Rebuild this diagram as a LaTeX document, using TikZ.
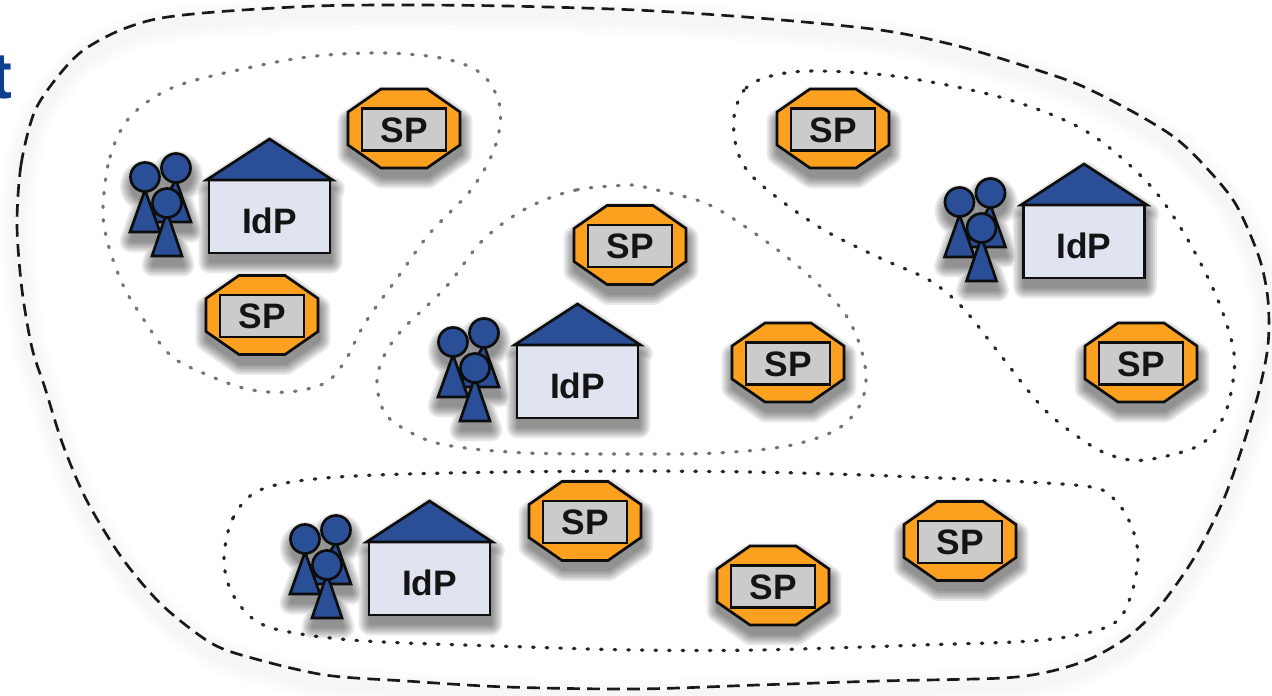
\documentclass[tikz,border=0pt]{standalone}
\usepackage{fontspec}
\setmainfont{Liberation Sans}
\definecolor{idblue}{HTML}{2A4F97}
\definecolor{sporange}{HTML}{FBA01F}
\definecolor{spgray}{HTML}{CBCBCB}
\definecolor{idlav}{HTML}{E0E3F0}
\definecolor{titleblue}{HTML}{0F3F8F}
\tikzset{
  x=0.75pt,y=-0.75pt,
  ink/.style={draw=black!95,line width=2pt,line join=miter},
  lbl/.style={font=\bfseries\fontsize{26.5}{26.5}\selectfont,text=black!92,inner sep=0pt},
  outerline/.style={draw=black!90,line width=2pt,dash pattern=on 9.5pt off 5.5pt},
  innerdark/.style={draw=black!85,line width=2.4pt,dash pattern=on 1.2pt off 9pt,line cap=round},
  innergray/.style={draw=black!55,line width=2.4pt,dash pattern=on 1.2pt off 9pt,line cap=round},
  softlayer/.style={black,fill=black,line width=#1 pt,line join=round,shift={(1,9)}},
  pics/sp/.style={code={
    \foreach \w in {17,14,11,8,5,2}{
      \begin{scope}[transparency group,opacity=.085]
        \draw[softlayer=\w]
          (-23,-39.5)--(23,-39.5)--(56,-16.5)--(56,16.5)--(23,39.5)--(-23,39.5)--(-56,16.5)--(-56,-16.5)--cycle;
      \end{scope}}
    \draw[ink,fill=sporange] (-23,-39.5)--(23,-39.5)--(56,-16.5)--(56,16.5)--(23,39.5)--(-23,39.5)--(-56,16.5)--(-56,-16.5)--cycle;
    \draw[ink,fill=spgray,line width=1.8pt] (-42,-20) rectangle (42,22);
    \node[lbl] (t) at (0,1.5) {SP};
  }},
  pics/idp/.style={code={
    \foreach \w in {17,14,11,8,5,2}{
      \begin{scope}[transparency group,opacity=.085]
        \draw[softlayer=\w]
          (0,-57)--(63,-16)--(60.5,-16)--(60.5,57)--(-60.5,57)--(-60.5,-16)--(-63,-16)--cycle;
        \draw[softlayer=\w]
          (-124.5,-19) circle (14.5) (-93.5,-28) circle (14.5) (-102.5,7) circle (14.5)
          (-124.5,-6)--(-139.5,36)--(-109.5,36)--cycle
          (-93.5,-16)--(-119,26)--(-78.5,26)--cycle
          (-102.5,16)--(-117.5,60)--(-87.5,60)--cycle;
      \end{scope}}
    \draw[ink,fill=idlav] (-60.5,-16) rectangle (60.5,57);
    \draw[ink,fill=idblue] (0,-57)--(63,-16)--(-63,-16)--cycle;
    \node[lbl] (t) at (0,25) {IdP};
    \draw[ink,fill=idblue] (-93.5,-16)--(-119,26)--(-78.5,26)--cycle;
    \draw[ink,fill=idblue] (-93.5,-28) circle (14.5);
    \draw[ink,fill=idblue] (-124.5,-6)--(-139.5,36)--(-109.5,36)--cycle;
    \draw[ink,fill=idblue] (-124.5,-19) circle (14.5);
    \draw[ink,fill=idblue] (-102.5,16)--(-117.5,60)--(-87.5,60)--cycle;
    \draw[ink,fill=idblue] (-102.5,7) circle (14.5);
  }}
}
\begin{document}
\begin{tikzpicture}
\useasboundingbox (0,0) rectangle (1272,696);
\clip (0,0) rectangle (1272,696);
\fill[white] (0,0) rectangle (1272,696);
\node[anchor=base east,inner sep=0pt,font=\bfseries\fontsize{49}{49}\selectfont,text=titleblue] (title) at (13,98) {t};
% outer boundary with faint glow
\def\outerpts{(17,225)(21,165)(34,113)(55,80)(81,52)(116,32)(156,19)(215,12)(316,6)(406,5)(507,6)(636,10)(758,18)(880,30)(958,46)(1037,70)(1082,86)(1135,113)(1174,137)(1202,163)(1235,203)(1259,257)(1268,300)(1268,345)(1259,391)(1243,445)(1223,501)(1194,558)(1160,606)(1129,636)(1092,658)(1052,671)(1003,678)(880,681)(758,685)(636,689)(507,687)(406,681)(325,675)(252,658)(211,643)(162,605)(122,558)(87,501)(63,445)(45,388)(32,348)(22,290)}
\foreach \w in {26,18,10}{
  \draw[black,opacity=.012,line width=\w pt,shift={(0,8)}] plot[smooth cycle,tension=.5] coordinates {\outerpts};}
\draw[outerline] plot[smooth cycle,tension=.5] coordinates {\outerpts};
% dotted groups
\draw[innergray] plot[smooth cycle,tension=.55] coordinates {(103,207)(110,157)(130,117)(174,87)(252,67)(316,56)(385,53)(446,59)(483,75)(500,107)(495,147)(471,190)(430,233)(398,277)(365,323)(345,361)(325,383)(288,392)(247,389)(203,373)(170,355)(142,317)(122,283)(107,240)};
\draw[innergray] plot[smooth cycle,tension=.55] coordinates {(633,185)(576,190)(527,208)(483,240)(446,287)(402,330)(383,358)(377,385)(387,416)(422,438)(458,447)(527,453)(633,454)(717,453)(787,446)(836,430)(860,405)(866,375)(858,340)(840,307)(799,267)(750,230)(705,203)(648,188)};
\draw[innerdark] plot[smooth cycle,tension=.55] coordinates {(734,117)(746,88)(775,75)(819,71)(901,77)(1003,98)(1084,130)(1145,180)(1182,230)(1215,293)(1233,347)(1233,381)(1223,418)(1198,446)(1145,460)(1113,456)(1084,441)(1043,408)(995,348)(962,307)(929,280)(880,258)(819,227)(758,182)(738,153)};
\draw[innerdark] plot[smooth cycle,tension=.55] coordinates {(224,558)(233,518)(260,490)(325,478)(446,473)(636,471)(799,473)(962,479)(1084,486)(1113,498)(1131,525)(1138,558)(1129,601)(1109,626)(1043,640)(921,645)(758,650)(636,650)(527,647)(365,641)(284,631)(252,618)(231,591)};
% providers
\pic (idpA) at (269.5,196) {idp};
\pic (idpB) at (1084,221) {idp};
\pic (idpC) at (577.5,361) {idp};
\pic (idpD) at (429.5,558) {idp};
\pic (spA) at (404,128.5) {sp};
\pic (spB) at (262,315) {sp};
\pic (spC) at (833,128.5) {sp};
\pic (spD) at (630,245) {sp};
\pic (spE) at (788,362.5) {sp};
\pic (spF) at (1141,362.5) {sp};
\pic (spG) at (585,521) {sp};
\pic (spH) at (773,585.5) {sp};
\pic (spI) at (960,541) {sp};
\end{tikzpicture}
\end{document}
